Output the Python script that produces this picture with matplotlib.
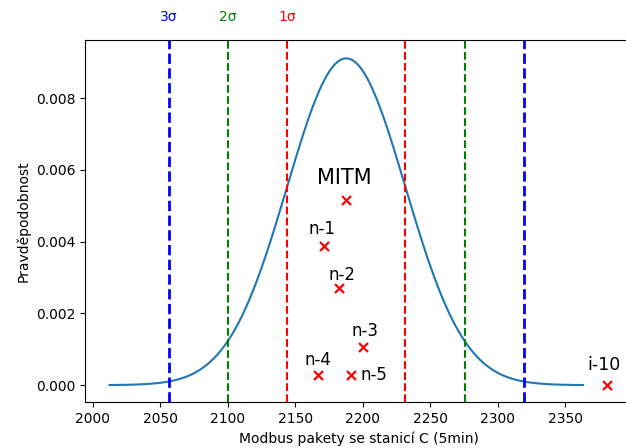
import numpy as np
import matplotlib
matplotlib.use("Agg")
import matplotlib.pyplot as plt
import matplotlib.transforms as mtransforms

# normal distribution of Modbus packet counts
mu = 2187.7
sigma = 43.8

# observed windows
labels = ["MITM", "n-1", "n-2", "n-3", "n-4", "n-5", "i-10"]
xs = [2187.6, 2171.6, 2182.7, 2200.0, 2166.7, 2191.3, 2380.7]
ys = [0.00517, 0.00387, 0.00270, 0.00107, 0.00028, 0.00028, 0.00001]
# label offsets in points (dx, dy)
offsets = [(-1, 15.8), (-2, 12.2), (1.5, 9.4), (1.5, 11.5), (0, 10.8), (7, 0), (-2, 14.4)]
sizes = [15, 12, 12, 12, 12, 12, 12.5]

sig_names = ["3σ", "2σ", "1σ"]
sig_k = [3, 2, 1]
sig_colors = ["b", "g", "r"]

fig = plt.figure(figsize=(6.26, 4.48), dpi=100)
ax = fig.add_axes([85 / 626, 46 / 448, 548 / 626, 362 / 448])

x = np.linspace(mu - 4 * sigma, mu + 4 * sigma, 400)
pdf = np.exp(-0.5 * ((x - mu) / sigma) ** 2) / (sigma * np.sqrt(2 * np.pi))
ax.plot(x, pdf, color="C0", lw=1.5)

trans = mtransforms.blended_transform_factory(ax.transData, ax.transAxes)
for name, k, c in zip(sig_names, sig_k, sig_colors):
    lw = 2 if c == "b" else 1.5
    ax.axvline(mu - k * sigma, color=c, ls="--", lw=lw)
    ax.axvline(mu + k * sigma, color=c, ls="--", lw=lw)
    ax.text(mu - k * sigma, 1.064, name, color=c, ha="center", va="center",
            fontsize=10, transform=trans)

ax.scatter(xs, ys, marker="x", color="red", s=42, linewidths=1.6, zorder=3)
for lab, px, py, (dx, dy), fs in zip(labels, xs, ys, offsets, sizes):
    ha = "left" if dx > 5 else "center"
    ax.annotate(lab, (px, py), xytext=(dx, dy), textcoords="offset points",
                ha=ha, va="center", fontsize=fs)

ax.set_xlim(1994.3, 2400)
ax.set_ylim(-0.00047, 0.00962)
ax.set_xticks([2000, 2050, 2100, 2150, 2200, 2250, 2300, 2350])
ax.set_yticks([0, 0.002, 0.004, 0.006, 0.008])
ax.set_xlabel("Modbus pakety se stanicí C (5min)")
ax.set_ylabel("Pravděpodobnost")

fig.savefig("out.png", dpi=100)
